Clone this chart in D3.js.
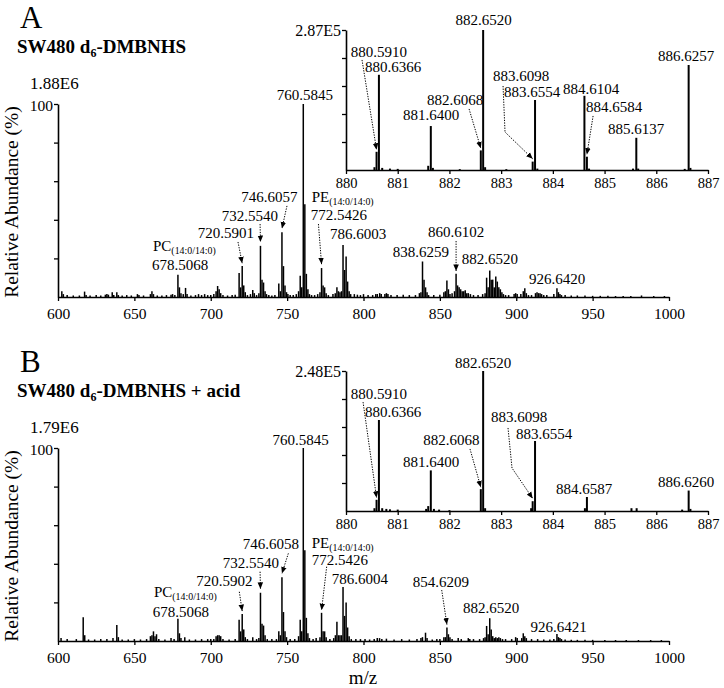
<!DOCTYPE html>
<html><head><meta charset="utf-8">
<script src="https://cdn.jsdelivr.net/npm/d3@7"></script>
<style>
body{margin:0;background:#fff}
svg{display:block}
</style>
</head><body><svg id="c" width="724" height="688" font-family="Liberation Serif, Times New Roman, DejaVu Serif, serif"></svg>
<script>
// ---------------- DATA ----------------
const panelLetters = ["A", "B"];
const panelTitles = [["SW480 d", "6", "-DMBNHS"], ["SW480 d", "6", "-DMBNHS + acid"]];
const mainMaxLabels = ["1.88E6", "1.79E6"];
const insetMaxLabels = ["2.87E5", "2.48E5"];
const mainXTicks = [600, 650, 700, 750, 800, 850, 900, 950, 1000];
const insetXTicks = [880, 881, 882, 883, 884, 885, 886, 887];
const yTicks = [20, 40, 60, 80, 100];
const yAxisTitle = "Relative Abundance (%)";
const xAxisTitle = "m/z";

// main spectrum A: [m/z, relative abundance %]
const spectrumA = [
 [602.5,3],[603.5,1.5],[606,1],[610,0.8],[614,0.8],[617.4,2.8],[618.4,1],[621,0.8],[625,1],[628,0.8],
 [631,1.2],[632,1.5],[633,1.2],[635.5,2.5],[636.5,1],[638.5,2.5],[639.5,1],[642,0.8],[645,1],[648,0.8],
 [652,1.5],[653,1],[656,0.8],[660.5,1.5],[661.5,3],[662.5,1.5],[665,0.8],[668,0.8],[671,1],[674,1.2],
 [675,1.5],[676.5,1],[678.51,11.5],[679.5,5],[680.5,2],[682,1.5],[683.5,4.7],[684.5,1.5],[687,0.8],[690,1],
 [692,1.5],[694,1],[696,1.5],[698,1],[700,1],[702,1.5],[703.5,3],[704.5,5.7],[705.5,4],[706.5,2],
 [708,1],[711,0.8],[714,1],[716,1.2],[718.57,12.5],[719.57,5],[720.59,16],[721.6,6],[722.6,2.5],[724,1],
 [726,1.5],[727.5,3.6],[728.5,2],[730,1],[731.5,2],[732.55,26.5],[733.56,9],[734.56,7.5],[735.56,3],[736.5,1.5],
 [738,1],[740,0.8],[742,1],[744.55,7],[745.55,3],[746.61,33.5],[747.61,16],[748.61,6],[749.6,2.5],[750.5,1.5],
 [752,1],[754,1],[756,1.5],[757.5,3],[758.57,11],[759.58,5],[760.58,100],[761.59,48],[762.59,12],[763.6,4],
 [764.6,1.5],[766,1],[768,1],[770,1.5],[771.5,2.5],[772.54,15],[773.55,6],[774.55,5],[775.55,2],[777,1],
 [780,1.5],[781.5,2],[782.6,5],[783.6,3],[784.6,2.5],[785.6,3],[786.6,27],[787.6,14],[788.62,21],[789.6,8],
 [790.6,3],[791.6,1.5],[794,1.5],[796,1.2],[798,1],[800,1.5],[803,1],[806,1],[808,1.5],[809,1.5],
 [810.6,2],[811.6,1.5],[814,1.5],[815,2],[816,1.5],[818,1],[822,1],[826,1.2],[830,1],[834,1],
 [836.6,2],[837.6,2.5],[838.63,18.4],[839.63,9],[840.63,5],[841.6,2.5],[842.6,1],[846,1],[850,1.2],[852.6,2.5],
 [853.6,3],[854.6,8.5],[855.6,4],[856.6,1.5],[858,2],[859.6,3],[860.61,12],[861.6,6],[862.6,5],[863.6,4],
 [864.6,3],[865.6,3],[866.6,3.5],[867.6,2],[868.6,2],[870,1.5],[872,1],[875,1],[878,1.5],[879.6,2],
 [880.6,10],[881.6,5],[882.65,13.7],[883.6,9],[884.6,9],[885.6,5],[886.6,10.6],[887.6,8],[888.6,5],[889.6,4],
 [890.6,2.5],[891.6,1.5],[893,1],[895,1],[898.6,1.5],[899.6,2],[900.6,1.5],[903,1.5],[904.6,3],[905.6,4.5],
 [906.6,2],[908,1],[910,1],[912.6,2],[913.6,2.5],[914.6,2],[915.6,2],[916.6,1.5],[918,1],[920,1],
 [924.6,1.5],[926.64,4.5],[927.6,2.5],[928.6,1.5],[929.6,1],[932,1],[936,0.8],[940,0.8],[945,0.8],[950,0.6],
 [955,0.6],[960,0.6],[965,0.5],[970,0.5],[975,0.5],[982,0.8],[990,0.5],[997,0.5]
];

// main spectrum B
const spectrumB = [
 [602,1.5],[606,1],[612,1],[616.5,12.3],[617.5,3],[620,0.8],[624,0.8],[628,1],[632,1],[636,1.5],
 [638.5,8.3],[639.5,2],[642,0.8],[646,0.8],[650,1],[654,0.8],[658,1],[660.5,2.5],[661.5,3],[662.5,5],
 [663.5,2.5],[664.5,3.5],[666,1],[670,0.8],[674,1.5],[676,1],[678.51,11.5],[679.5,4],[680.5,1.5],[683,2],
 [686,0.8],[690,0.8],[694,1],[698,1],[700,1],[702,1],[703.5,2.5],[704.5,3],[705.5,3],[706.5,2.5],
 [708,1],[712,0.8],[716,1],[718.57,11],[719.57,5],[720.59,14],[721.6,6],[722.6,2],[724,1],[727.5,2],
 [730,1],[731.5,1.5],[732.55,25],[733.56,9],[734.56,8],[735.56,3],[737,1],[740,1],[743,1],[744.55,5],
 [745.55,3],[746.61,33],[747.61,15],[748.61,5],[749.6,2],[752,1],[755,1],[757.5,2.5],[758.57,11],[759.58,5],
 [760.58,100],[761.59,47],[762.59,12],[763.6,4],[764.6,1.5],[767,1],[769,1.5],[771.5,2],[772.54,14.6],[773.55,5],
 [774.55,5],[775.55,2],[778,1],[780.5,1.5],[781.6,3],[782.6,10],[783.6,3],[784.6,3],[785.6,3],[786.6,28],
 [787.6,13],[788.62,20],[789.6,7],[790.6,2.5],[792,1],[795,1],[798,1],[801,1],[804,0.8],[807,1],
 [809,1.5],[810.5,1.5],[812,1],[815,1.2],[820,0.8],[825,1],[830,0.8],[835,1],[837.6,1.5],[838.6,2],
 [840.6,4.3],[841.6,1.5],[845,0.8],[848,1],[850,1],[852.6,2],[853.6,2],[854.62,7],[855.6,3.5],[856.6,2],
 [858,1],[862,1.5],[864,1],[868.6,1.5],[869.6,1],[872,1],[876,1],[878.6,1.5],[879.6,2],[880.6,7.8],
 [881.6,3.5],[882.65,11.8],[883.6,6],[884.6,2.5],[885.6,1.5],[886.6,2],[887.6,1.5],[888.6,2],[889.6,1.5],[891,1],
 [893,1],[897,1],[899.6,2],[900.6,1.5],[903.6,1.5],[904.6,4],[905.6,2.5],[906.6,1.5],[910,1],[914,1],
 [918,0.8],[922,0.8],[924.6,1],[926.64,3.6],[927.6,2],[928.6,1.5],[929.6,1],[932,0.8],[936,0.6],[940,0.6],
 [945,0.6],[950,0.6],[958,0.5],[965,0.5],[972,0.5],[980,0.5],[988,0.5],[995,0.5]
];

// inset (zoom 880-887) spectra
const insetA = [
 [880.55,2],[880.5910,13],[880.6366,68],[880.70,1.5],[880.85,1],[881.00,0.8],[881.59,3],[881.64,31.4],[881.68,1.5],
 [882.20,0.6],[882.6068,14],[882.652,100],[882.69,2],[883.10,0.6],[883.6098,6],[883.6554,50],[883.70,1],
 [884.6104,53],[884.6584,9.5],[884.70,1],[885.55,1],[885.6137,23],[885.65,1],[886.55,0.8],[886.6257,75],[886.66,1.5]
];
const insetB = [
 [880.55,2],[880.5910,8],[880.6366,65],[880.70,2],[880.78,1.5],[880.85,1.2],[881.00,1],[881.55,1.5],[881.59,3.5],
 [881.64,29],[881.70,1.5],[881.80,1],[882.00,0.6],[882.6068,15.6],[882.652,100],[882.69,2],[883.58,2],
 [883.6098,7],[883.6554,50],[884.62,2],[884.6587,10],[885.52,2],[885.62,2],[886.50,1],[886.6260,14.6],[886.66,1.5]
];

// ---------------- ANNOTATION LAYOUT (data coordinates) ----------------
const annMainA = [
 {t:"760.5845", x:761.7, y:102.1},
 {t:"746.6057", x:738.46, y:49.2, arrow:[[749.9,47.2],[746.61,35.5]]},
 {t:"732.5540", x:725.69, y:39.4, arrow:[[732.3,37.8],[732.55,28.5]]},
 {t:"720.5901", x:709.98, y:30.6, arrow:[[717.84,28.5],[720.59,17.5]]},
 {t:"PC", sub:"(14:0/14:0)", x:662.19, y:23.8, anchor:"start"},
 {t:"678.5068", x:679.87, y:14.2},
 {t:"PE", sub:"(14:0/14:0)", x:766.09, y:49.4, anchor:"start"},
 {t:"772.5426", x:783.96, y:39.9, arrow:[[770.5,37.8],[772.54,17]]},
 {t:"786.6003", x:796.4, y:30},
 {t:"838.6259", x:837.64, y:20.7},
 {t:"860.6102", x:860.56, y:31.1, arrow:[[860.61,29],[860.61,13.5]]},
 {t:"882.6520", x:882.8, y:17.1},
 {t:"926.6420", x:926.7, y:6.7}
];
const annMainB = [
 {t:"760.5845", x:758.76, y:101.6},
 {t:"746.6058", x:739.31, y:47.7, arrow:[[750.8,45.4],[746.61,35]]},
 {t:"732.5540", x:726.2, y:37.8, arrow:[[732.3,35.9],[732.55,27]]},
 {t:"720.5902", x:709.0, y:28.5, arrow:[[718.7,25.5],[720.59,15.5]]},
 {t:"PC", sub:"(14:0/14:0)", x:662.8, y:22.8, anchor:"start"},
 {t:"678.5068", x:680.5, y:12.4},
 {t:"PE", sub:"(14:0/14:0)", x:766.1, y:48.4, anchor:"start"},
 {t:"772.5426", x:784.6, y:39.4, arrow:[[775.9,38.5],[772.54,16]]},
 {t:"786.6004", x:797.6, y:29.3},
 {t:"854.6209", x:850.7, y:28, arrow:[[851.2,26.4],[854.62,8.5]]},
 {t:"882.6520", x:883.5, y:14.5},
 {t:"926.6421", x:927.8, y:4.7}
];
const annInsetA = [
 {t:"882.6520", x:882.663, y:103.6},
 {t:"880.5910", x:880.638, y:80.4, arrow:[[880.31,78.6],[880.591,14.5]]},
 {t:"880.6366", x:880.909, y:70},
 {t:"881.6400", x:881.644, y:35.7},
 {t:"882.6068", x:882.108, y:46.4, arrow:[[882.38,43.6],[882.6068,15.5]]},
 {t:"883.6098", x:883.385, y:63.6, arrow:[[883.037,60],[883.075,27.1],[883.6098,8]]},
 {t:"883.6554", x:883.598, y:52.1},
 {t:"884.6104", x:884.739, y:54.3},
 {t:"884.6584", x:885.184, y:41.4, arrow:[[884.778,38.6],[884.6584,11]]},
 {t:"885.6137", x:885.609, y:25.7},
 {t:"886.6257", x:886.576, y:77.9}
];
const annInsetB = [
 {t:"882.6520", x:882.65, y:101.8},
 {t:"880.5910", x:880.638, y:80, arrow:[[880.33,77.8],[880.591,9.5]]},
 {t:"880.6366", x:880.909, y:66.8},
 {t:"881.6400", x:881.644, y:31.4},
 {t:"882.6068", x:882.04, y:47.1, arrow:[[882.398,44.3],[882.6068,17]]},
 {t:"883.6098", x:883.346, y:63.6, arrow:[[883.133,59.3],[883.21,30.7],[883.6098,9]]},
 {t:"883.6554", x:883.83, y:51.4},
 {t:"884.6587", x:884.603, y:12.1},
 {t:"886.6260", x:886.576, y:17.1}
];

// ---------------- LAYOUT ----------------
const FONT = "Liberation Serif, Times New Roman, DejaVu Serif, serif";
const LAY = {
  mainX:[58,669], mainBase:297, mainTop:104,
  insetX:[346,708], insetBase:170, insetTop:30,
  shift:[0,344], insetShift:[0,341]
};

const svg = d3.select("#c");
svg.append("rect").attr("width",724).attr("height",688).attr("fill","#fff");
svg.append("defs").append("marker").attr("id","ah")
  .attr("viewBox","0 0 8 8").attr("refX",8).attr("refY",4)
  .attr("markerWidth",6.5).attr("markerHeight",6.5)
  .attr("markerUnits","userSpaceOnUse").attr("orient","auto")
  .append("path").attr("d","M0,0.6 L8,4 L0,7.4 Z").attr("fill","#000");

function txt(g) { return g.append("text").attr("font-family",FONT).attr("fill","#000"); }

function drawSticks(g, data, x, y, w) {
  g.selectAll("line.stick").data(data).join("line").attr("class","stick")
    .attr("x1",d=>x(d[0])).attr("x2",d=>x(d[0]))
    .attr("y1",y(0)).attr("y2",d=>y(d[1]))
    .attr("stroke","#000").attr("stroke-width",w);
}

function drawAnn(g, anns, x, y, fs) {
  anns.forEach(a => {
    const t = txt(g).attr("x",x(a.x)).attr("y",y(a.y))
      .attr("text-anchor",a.anchor||"middle").attr("font-size",fs);
    t.append("tspan").text(a.t);
    if (a.sub) t.append("tspan").attr("font-size",fs*0.66).attr("dy",3).text(a.sub);
    if (a.arrow) {
      g.append("path")
        .attr("d",d3.line()(a.arrow.map(p=>[x(p[0]),y(p[1])])))
        .attr("fill","none").attr("stroke","#000").attr("stroke-width",1)
        .attr("stroke-dasharray","1.3,1.3").attr("marker-end","url(#ah)");
    }
  });
}

function styleAxis(ax, fs) {
  ax.attr("font-family",FONT).attr("font-size",fs);
  ax.select(".domain").attr("stroke-width",1.6);
  ax.selectAll(".tick line").attr("stroke-width",1.3);
  ax.selectAll("text").attr("font-size",fs).attr("font-family",FONT).attr("fill","#000");
}

[0,1].forEach(i => {
  const dy = LAY.shift[i], idy = LAY.insetShift[i];
  const g = svg.append("g");
  const spec = i===0 ? spectrumA : spectrumB;
  const ins = i===0 ? insetA : insetB;
  const annM = i===0 ? annMainA : annMainB;
  const annI = i===0 ? annInsetA : annInsetB;

  // headings
  txt(g).attr("x",20).attr("y",28+dy).attr("font-size",31).text(panelLetters[i]);
  const tt = txt(g).attr("x",17).attr("y",53+dy).attr("font-size",19).attr("font-weight","bold");
  tt.append("tspan").text(panelTitles[i][0]);
  tt.append("tspan").attr("font-size",12).attr("dy",4).text(panelTitles[i][1]);
  tt.append("tspan").attr("dy",-4).text(panelTitles[i][2]);
  txt(g).attr("x",30).attr("y",89+dy).attr("font-size",17).text(mainMaxLabels[i]);

  // main plot
  const x = d3.scaleLinear().domain([600,1000]).range(LAY.mainX);
  const y = d3.scaleLinear().domain([0,100]).range([LAY.mainBase+dy, LAY.mainTop+dy]);
  drawSticks(g.append("g"), spec, x, y, 1.5);
  const xa = g.append("g").attr("transform",`translate(0,${LAY.mainBase+dy})`)
    .call(d3.axisBottom(x).tickValues(mainXTicks).tickSize(4).tickSizeOuter(0).tickPadding(7).tickFormat(d3.format("d")));
  styleAxis(xa, 15.5);
  const ya = g.append("g").attr("transform",`translate(${LAY.mainX[0]},0)`)
    .call(d3.axisLeft(y).tickValues(yTicks).tickSize(4).tickSizeOuter(0).tickPadding(1).tickFormat(d=>d===100?"100":""));
  styleAxis(ya, 15.5);
  ya.selectAll("text").attr("dy","0.45em");
  txt(g).attr("transform",`translate(18,${202+dy}) rotate(-90)`)
    .attr("text-anchor","middle").attr("font-size",19.5).text(yAxisTitle);
  drawAnn(g.append("g"), annM, x, y, 15);

  // inset
  const xi = d3.scaleLinear().domain([880,887]).range(LAY.insetX);
  const yi = d3.scaleLinear().domain([0,100]).range([LAY.insetBase+idy, LAY.insetTop+idy]);
  drawSticks(g.append("g"), ins, xi, yi, 2);
  const xia = g.append("g").attr("transform",`translate(0,${LAY.insetBase+idy})`)
    .call(d3.axisBottom(xi).tickValues(insetXTicks).tickSize(4).tickSizeOuter(0).tickPadding(4).tickFormat(d3.format("d")));
  styleAxis(xia, 14.5);
  const yia = g.append("g").attr("transform",`translate(${LAY.insetX[0]},0)`)
    .call(d3.axisLeft(yi).tickValues(yTicks).tickSize(4).tickSizeOuter(0).tickPadding(1).tickFormat(d=>d===100?insetMaxLabels[i]:""));
  styleAxis(yia, 16);
  yia.selectAll("text").attr("dy","0.35em");
  drawAnn(g.append("g"), annI, xi, yi, 15);
});

txt(svg).attr("x",363).attr("y",684).attr("text-anchor","middle").attr("font-size",19).text(xAxisTitle);
</script>
</body></html>
